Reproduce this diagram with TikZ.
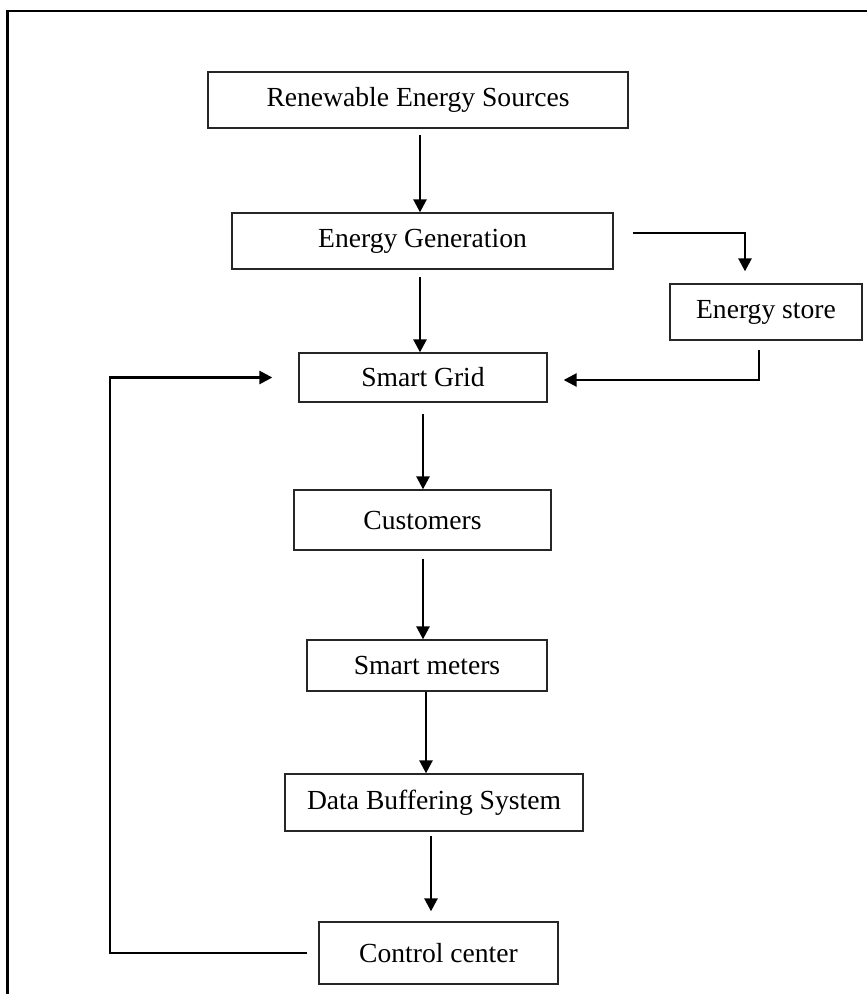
\documentclass[tikz,border=0pt]{standalone}
\usepackage{fontspec}
\setmainfont{Liberation Serif}
\usetikzlibrary{arrows.meta}
\begin{document}
\begin{tikzpicture}[x=1pt,y=-1pt,
  box/.style={draw=black!85, line width=1.3pt, inner sep=0pt, font=\fontsize{27.6}{32}\selectfont},
  arr/.style={line width=2.6pt, -{Triangle[length=13pt,width=13pt]}},
  border/.style={line width=2.6pt}]
\useasboundingbox (0,0) rectangle (867,994);
\clip (0,0) rectangle (867,994);
\draw[border] (7.5,1000) -- (7.5,11) -- (875,11);
\node[box, minimum width=420pt, minimum height=56pt] (res) at (418,100) {Renewable Energy Sources};
\node[box, minimum width=381pt, minimum height=56pt] (gen) at (422.5,241) {Energy Generation};
\node[box, minimum width=192pt, minimum height=56pt] (store) at (766,312) {Energy store};
\node[box, minimum width=248pt, minimum height=49pt] (grid) at (423,377.5) {Smart Grid};
\node[box, minimum width=257pt, minimum height=60pt] (cust) at (422.5,520) {Customers};
\node[box, minimum width=240pt, minimum height=51pt] (meters) at (427,665.5) {Smart meters};
\node[box, minimum width=298pt, minimum height=57pt] (data) at (434,802.5) {Data Buffering System};
\node[box, minimum width=239pt, minimum height=62pt] (ctrl) at (438.5,953) {Control center};
\coordinate (fb) at (110,0);
\draw[arr] ([xshift=2pt,yshift=-6pt]res.south) -- ([xshift=-2.5pt]gen.north);
\draw[arr] ([xshift=-2.5pt,yshift=-7pt]gen.south) -- ([xshift=-3pt]grid.north);
\draw[arr] ([xshift=19pt,yshift=8pt]gen.east) -| ([xshift=-21pt,yshift=12pt]store.north);
\draw[arr] ([xshift=-7pt,yshift=-9pt]store.south) |- ([xshift=16pt,yshift=-2.5pt]grid.east);
\draw[arr] ([yshift=-11pt]grid.south) -- ([xshift=0.5pt]cust.north);
\draw[arr] ([xshift=0.5pt,yshift=-8pt]cust.south) -- ([xshift=-4pt]meters.north);
\draw[arr] ([xshift=-1pt]meters.south) -- ([xshift=-8pt]data.north);
\draw[arr] ([xshift=-3pt,yshift=-4pt]data.south) -- ([xshift=-7.5pt,yshift=10pt]ctrl.north);
\draw[arr] ([xshift=-11pt]ctrl.west) -| (fb |- grid.west) -- ([xshift=-26pt]grid.west);
\end{tikzpicture}
\end{document}
